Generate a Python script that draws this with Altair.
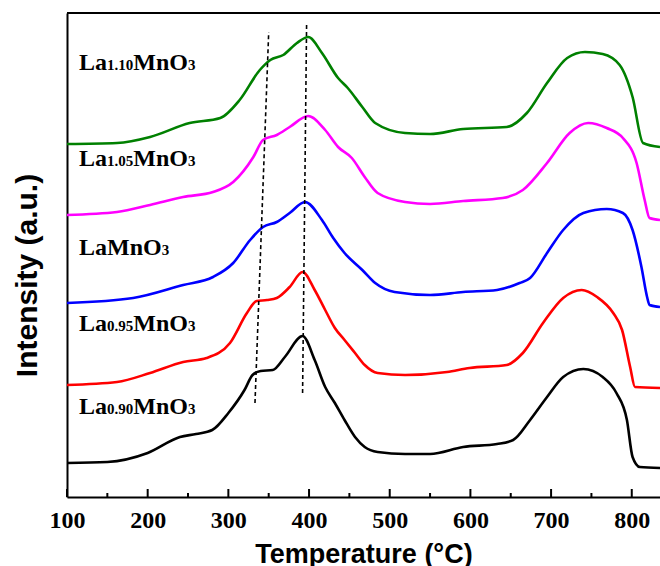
import altair as alt
import pandas as pd

# ---- data ----
T_090 = [100, 150, 200, 240, 260, 280, 300, 320, 330, 340, 355, 370, 392, 407, 420, 432, 444, 457, 469, 485, 519, 550, 591, 633, 653, 674, 695, 715, 740, 764, 781, 794, 801, 810, 835]
I_090 = [34, 35, 44, 60, 63, 67, 84, 107, 122, 126, 127, 140, 161, 137, 110, 94, 77, 60, 50, 45, 43, 43, 50, 53, 57, 77, 100, 120, 128, 120, 104, 77, 40, 30, 29]

T_095 = [100, 162, 203, 244, 273, 302, 323, 335, 348, 360, 376, 392, 407, 420, 432, 444, 457, 469, 485, 519, 571, 599, 645, 665, 690, 715, 738, 757, 777, 788, 798, 804, 835]
I_095 = [112, 115, 124, 135, 139, 154, 184, 196, 197, 199, 210, 225, 207, 187, 169, 157, 144, 132, 124, 122, 125, 129, 132, 144, 174, 199, 207, 200, 184, 167, 130, 110, 109]

T_100 = [100, 182, 244, 281, 306, 327, 343, 360, 376, 395, 416, 430, 444, 466, 482, 506, 550, 591, 633, 661, 674, 695, 715, 740, 769, 789, 801, 812, 819, 822, 835]
I_100 = [194, 199, 212, 220, 234, 257, 270, 275, 284, 295, 277, 259, 244, 227, 214, 205, 202, 205, 207, 214, 219, 244, 267, 284, 288, 284, 267, 230, 200, 192, 190]

T_105 = [100, 162, 203, 244, 281, 306, 331, 343, 360, 376, 399, 420, 436, 453, 469, 485, 519, 550, 591, 640, 665, 695, 723, 746, 769, 789, 806, 816, 822, 835]
I_105 = [282, 285, 292, 300, 305, 315, 340, 357, 362, 370, 381, 367, 350, 339, 320, 304, 295, 293, 296, 299, 307, 334, 364, 374, 369, 359, 334, 297, 279, 277]

T_110 = [100, 162, 203, 252, 290, 314, 339, 352, 368, 385, 399, 416, 436, 448, 466, 482, 519, 550, 591, 645, 670, 695, 720, 742, 764, 785, 801, 814, 835]
I_110 = [353, 354, 360, 374, 379, 397, 427, 437, 442, 454, 460, 444, 419, 409, 390, 374, 364, 363, 368, 370, 384, 414, 439, 445, 443, 432, 400, 354, 350]

series_names = ["La0.90MnO3", "La0.95MnO3", "LaMnO3", "La1.05MnO3", "La1.10MnO3"]
series_colors = ["#000000", "#ff0000", "#0000ff", "#ff00ff", "#008000"]

# dashed guide lines (temperature, intensity)
guide1_T = [333, 350]
guide1_I = [94, 465]
guide2_T = [392, 397]
guide2_I = [104, 475]

# label anchor positions and parts (text, is_subscript)
label_T = [115, 115, 115, 115, 115]
label_I = [83, 166, 242, 331, 427]
label_parts = [
    [("La", False), ("0.90", True), ("MnO", False), ("3", True)],
    [("La", False), ("0.95", True), ("MnO", False), ("3", True)],
    [("La", False), ("MnO", False), ("3", True)],
    [("La", False), ("1.05", True), ("MnO", False), ("3", True)],
    [("La", False), ("1.10", True), ("MnO", False), ("3", True)],
]

major_ticks = [100, 200, 300, 400, 500, 600, 700, 800]
minor_ticks = [150, 250, 350, 450, 550, 650, 750]

# ---- layout ----
W, H = 593, 484
XMIN, XMAX = 100, 835
YMIN, YMAX = 0, 484
PX_PER_DEG = W / (XMAX - XMIN)
BIG, SMALL = 24, 15

# Liberation Serif Bold advance widths (em)
adv = {"L": 0.667, "a": 0.5, "M": 0.944, "n": 0.556, "O": 0.778, ".": 0.25}
for d in "0123456789":
    adv[d] = 0.5

def width(txt, size):
    return sum(adv.get(c, 0.5) for c in txt) * size

curve_rows = []
for name, Ts, Is in zip(series_names, [T_090, T_095, T_100, T_105, T_110], [I_090, I_095, I_100, I_105, I_110]):
    for t, i in zip(Ts, Is):
        curve_rows.append({"T": t, "I": i, "series": name})
curves = pd.DataFrame(curve_rows)

guides = pd.DataFrame(
    [{"T": t, "I": i, "g": "g1"} for t, i in zip(guide1_T, guide1_I)]
    + [{"T": t, "I": i, "g": "g2"} for t, i in zip(guide2_T, guide2_I)]
)

lab_rows = []
for t0, i0, parts in zip(label_T, label_I, label_parts):
    off = 0.0
    for txt, sub in parts:
        size = SMALL if sub else BIG
        lab_rows.append({"T": t0 + off / PX_PER_DEG, "I": i0, "text": txt, "size": size})
        off += width(txt, size)
labels = pd.DataFrame(lab_rows)

ticks = pd.DataFrame(
    [{"T": t, "I": 0, "I2": 8} for t in major_ticks] + [{"T": t, "I": 0, "I2": 4} for t in minor_ticks]
)

xenc = alt.X(
    "T:Q",
    scale=alt.Scale(domain=[XMIN, XMAX], nice=False, zero=False),
    axis=alt.Axis(
        title="Temperature (°C)",
        values=major_ticks,
        format="d",
        grid=False,
        ticks=False,
        tickSize=0,
        domainColor="black",
        domainWidth=2,
        labelFont="Liberation Serif",
        labelFontWeight="bold",
        labelFontSize=24,
        labelColor="black",
        labelBaseline="alphabetic",
        labelPadding=30,
        labelFlush=False,
        titleFont="Liberation Sans",
        titleFontWeight="bold",
        titleFontSize=27,
        titleColor="black",
        titleBaseline="alphabetic",
        titleY=65,
    ),
)
yenc = alt.Y(
    "I:Q",
    scale=alt.Scale(domain=[YMIN, YMAX], nice=False, zero=False),
    axis=alt.Axis(
        title="Intensity (a.u.)",
        labels=False,
        ticks=False,
        tickSize=0,
        grid=False,
        domainColor="black",
        domainWidth=2,
        titleFont="Liberation Sans",
        titleFontWeight="bold",
        titleFontSize=30,
        titleColor="black",
        titleBaseline="alphabetic",
        titleAngle=270,
        titleX=-31,
        titleY=262,
        titleAlign="center",
    ),
)

lines = alt.Chart(curves).mark_line(strokeWidth=2.6, interpolate="monotone").encode(
    x=xenc,
    y=yenc,
    color=alt.Color("series:N", scale=alt.Scale(domain=series_names, range=series_colors), legend=None),
    detail="series:N",
)

guide_layer = alt.Chart(guides).mark_line(color="black", strokeWidth=1.6, strokeDash=[4, 3]).encode(
    x="T:Q", y="I:Q", detail="g:N"
)

text_layer = alt.Chart(labels).mark_text(
    align="left", baseline="alphabetic", font="Liberation Serif", fontWeight="bold", color="black"
).encode(
    x="T:Q", y="I:Q", text="text:N", size=alt.Size("size:Q", scale=None, legend=None)
)

tick_layer = alt.Chart(ticks).mark_rule(color="black", strokeWidth=2).encode(
    x="T:Q", y="I:Q", y2="I2:Q"
)

top_frame = alt.Chart(pd.DataFrame({"k": [0]})).mark_rule(color="black", strokeWidth=2).encode(
    x=alt.value(0), x2=alt.value(W), y=alt.value(0)
)

chart = alt.layer(
    lines, guide_layer, text_layer, tick_layer, top_frame
).properties(
    width=W,
    height=H,
    autosize=alt.AutoSizeParams(type="none"),
    padding={"left": 67, "top": 13, "right": 0, "bottom": 69},
    background="white",
).configure_view(stroke=None)

chart.save("out.html", embed_options={"renderer": "svg", "actions": False})
